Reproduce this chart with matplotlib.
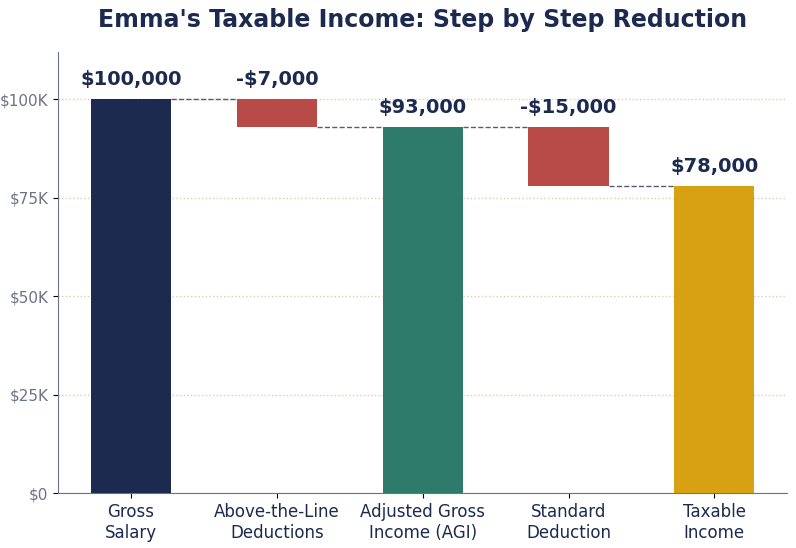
import matplotlib
matplotlib.use("Agg")
import matplotlib.pyplot as plt

categories = ["Gross\nSalary", "Above-the-Line\nDeductions", "Adjusted Gross\nIncome (AGI)", "Standard\nDeduction", "Taxable\nIncome"]
values = [100000, -7000, 93000, -15000, 78000]
kinds = ["total", "delta", "total", "delta", "total"]
labels = ["$100,000", "-$7,000", "$93,000", "-$15,000", "$78,000"]
colors = ["#1b2a4e", "#b84a48", "#2e7b6c", "#b84a48", "#d8a114"]
yticks = [0, 25000, 50000, 75000, 100000]
yticklabels = ["$0", "$25K", "$50K", "$75K", "$100K"]

fam = ["Liberation Sans Narrow", "DejaVu Sans"]
plt.rcParams['font.family'] = fam
fig = plt.figure(figsize=(7.96, 5.48), dpi=100)
ax = fig.add_axes([0.073, 0.1, 0.916, 0.805])

running = 0
tops = []
for i, (v, k) in enumerate(zip(values, kinds)):
    if k == "total":
        bottom, h = 0, v
        running = v
    else:
        bottom, h = running + v, -v
        running = running + v
    ax.bar(i, h, bottom=bottom, width=0.55, color=colors[i], zorder=3)
    top = bottom + h
    ax.text(i, top + 2500, labels[i], ha="center", va="bottom", fontsize=14,
            fontweight="bold", color="#1b2a4e")
    if i < len(values) - 1:
        ax.plot([i + 0.275, i + 1 - 0.275], [running, running], ls="--",
                color="#555e70", lw=1, zorder=2)

ax.set_xlim(-0.5, 4.5)
ax.set_ylim(0, 112000)
ax.set_yticks(yticks)
ax.set_yticklabels(yticklabels, fontsize=11, color="#6b7384")
ax.set_xticks(range(len(categories)))
ax.set_xticklabels(categories, fontsize=12, color="#1b2a4e")
ax.grid(axis="y", ls=":", color="#d8cfae", lw=1, zorder=0)
for s in ["top", "right"]:
    ax.spines[s].set_visible(False)
for s in ["left", "bottom"]:
    ax.spines[s].set_color("#6b7384")
ax.set_title("Emma's Taxable Income: Step by Step Reduction", fontsize=17,
             fontweight="bold", color="#1b2a4e", pad=18)
fig.savefig("out.png", dpi=100)
